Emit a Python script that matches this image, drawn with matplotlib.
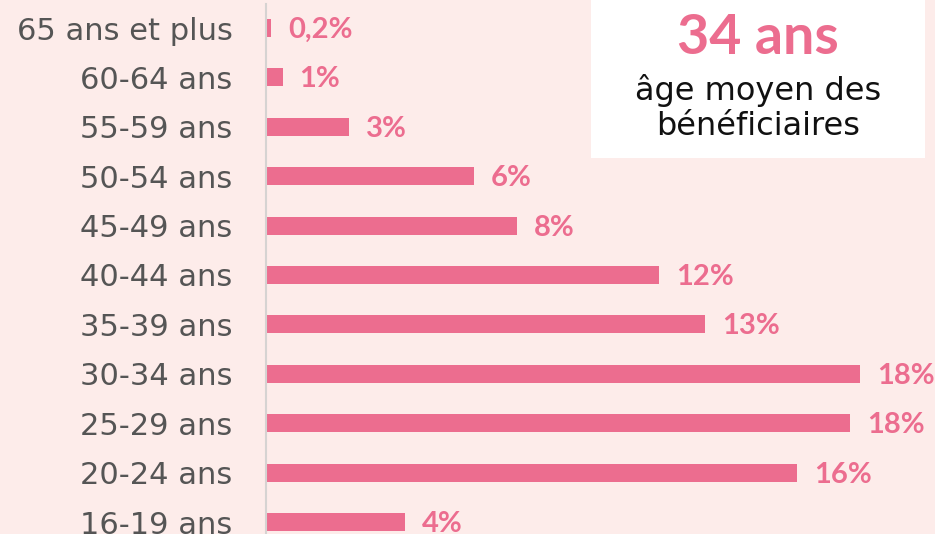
import matplotlib.pyplot as plt
from matplotlib.patches import Rectangle

# age groups, top to bottom
groups = ["65 ans et plus", "60-64 ans", "55-59 ans", "50-54 ans", "45-49 ans",
          "40-44 ans", "35-39 ans", "30-34 ans", "25-29 ans", "20-24 ans",
          "16-19 ans"]
# share of beneficiaries (%)
shares = [0.15, 0.5, 2.5, 6.3, 7.6, 11.9, 13.3, 18.0, 17.7, 16.1, 4.2]
# printed labels
labels = ["0,2%", "1%", "3%", "6%", "8%", "12%", "13%", "18%", "18%", "16%", "4%"]

mean_age = "34 ans"
caption_lines = ["âge moyen des", "bénéficiaires"]

BG = "#fdecea"
PINK = "#ec6d8f"
GREY = "#555555"
BOLD_FONT = ["Lato", "DejaVu Sans"]
TEXT_FONT = ["DejaVu Sans"]

W, H = 935, 534
fig = plt.figure(figsize=(W / 100, H / 100), dpi=100, facecolor=BG)
x0 = 266
ax = fig.add_axes([x0 / W, 0, 1 - x0 / W, 1])
ax.set_facecolor(BG)

row = 49.4          # px between bars
px_per_pct = 33.0
ypos = list(range(len(groups)))
ax.barh(ypos, shares, height=18 / row, color=PINK, linewidth=0)
ax.set_xlim(0, (W - x0) / px_per_pct)
ax.set_ylim(10 + 12 / row, -28 / row)

for y, v, lab in zip(ypos, shares, labels):
    ax.annotate(lab, (v, y), xytext=(17, -2), textcoords="offset pixels",
                va="center", ha="left", color=PINK, fontsize=21,
                fontweight="bold", family=BOLD_FONT)

ax.set_yticks(ypos)
ax.set_yticklabels(groups, fontsize=22, color=GREY, family=TEXT_FONT)
ax.tick_params(axis="y", length=0, pad=24)
ax.set_xticks([])
for s in ["top", "right", "bottom"]:
    ax.spines[s].set_visible(False)
ax.spines["left"].set_color("#d6d3d2")
ax.spines["left"].set_linewidth(1.5)
ax.spines["left"].set_bounds(10 + 12 / row, -24 / row)

# summary box, top right
fig.patches.append(Rectangle((591 / W, 1 - 158 / H), 334 / W, 158 / H,
                             transform=fig.transFigure, facecolor="white",
                             edgecolor="none", zorder=3))
fig.text(758 / W, 1 - 54 / H, mean_age, ha="center", va="baseline",
         fontsize=40, fontweight="bold", color=PINK, family=BOLD_FONT, zorder=4)
for line, base in zip(caption_lines, [100, 135]):
    fig.text(758 / W, 1 - base / H, line, ha="center", va="baseline",
             fontsize=23, color="#111111", family=TEXT_FONT, zorder=4)

fig.savefig("out.png", dpi=100, facecolor=BG)
